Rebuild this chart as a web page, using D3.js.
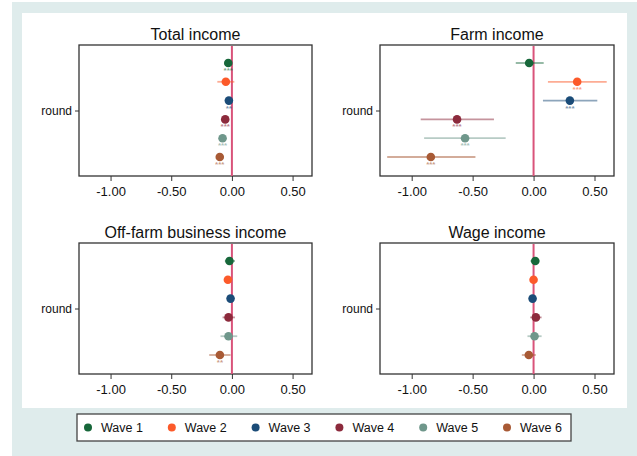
<!DOCTYPE html>
<html><head><meta charset="utf-8">
<script src="https://cdn.jsdelivr.net/npm/d3@7/dist/d3.min.js"></script>
<style>body{margin:0;background:#fff}svg{display:block;font-family:"Liberation Sans",Arial,sans-serif}</style>
</head><body><svg id="c" width="637" height="456"></svg>
<script>
const waves = ["Wave 1","Wave 2","Wave 3","Wave 4","Wave 5","Wave 6"];
const colors = ["#17673a","#fc5a2a","#1b4c78","#8c2a3c","#6f978b","#a85a35"];
const panels = ["Total income","Farm income","Off-farm business income","Wage income"];
const ticks = [-1.00,-0.50,0.00,0.50];
// estimates per panel: [coef, lo, hi, stars]
const totalIncome = [[-0.030,-0.045,-0.015,"***"],[-0.050,-0.120,0.020,""],[-0.025,-0.040,-0.010,"**"],[-0.055,-0.070,-0.040,"***"],[-0.077,-0.092,-0.062,"***"],[-0.100,-0.115,-0.085,"***"]];
const farmIncome = [[-0.036,-0.146,0.083,""],[0.358,0.118,0.600,"***"],[0.298,0.077,0.523,"***"],[-0.628,-0.926,-0.325,"***"],[-0.562,-0.898,-0.229,"***"],[-0.843,-1.201,-0.477,"***"]];
const offFarmIncome = [[-0.020,-0.058,0.025,""],[-0.033,-0.048,-0.018,""],[-0.011,-0.026,0.004,""],[-0.028,-0.077,0.025,""],[-0.028,-0.094,0.044,""],[-0.099,-0.187,-0.011,"**"]];
const wageIncome = [[0.014,-0.025,0.047,""],[0.000,-0.012,0.012,""],[-0.008,-0.020,0.004,""],[0.019,-0.028,0.066,""],[0.008,-0.050,0.066,""],[-0.039,-0.096,0.019,""]];
const panelData = [totalIncome, farmIncome, offFarmIncome, wageIncome];

const svg = d3.select("#c");
svg.append("rect").attr("x",0).attr("y",2).attr("width",637).attr("height",454).attr("fill","#dfecec");
svg.append("rect").attr("x",0).attr("y",0).attr("width",12).attr("height",456).attr("fill","#fff");
svg.append("rect").attr("x",22).attr("y",13).attr("width",605).attr("height",395).attr("fill","#fff");

const boxes = [{x0:79,x1:312,y0:45,y1:176},{x0:380,x1:614,y0:45,y1:176},{x0:79,x1:312,y0:243,y1:374},{x0:380,x1:614,y0:243,y1:374}];

panels.forEach((title,i)=>{
  const b = boxes[i];
  const x = d3.scaleLinear().domain([-1.26,0.66]).range([b.x0,b.x1]);
  const y = d3.scalePoint().domain(waves).range([b.y0+18,b.y1-19]);
  const g = svg.append("g");
  g.append("text").attr("x",(b.x0+b.x1)/2).attr("y",b.y0-5).attr("text-anchor","middle")
    .attr("font-size",16).attr("fill","#111").text(title);
  // x axis
  const ax = g.append("g").attr("transform",`translate(0,${b.y1})`)
    .call(d3.axisBottom(x).tickValues(ticks).tickFormat(d3.format(".2f")).tickSize(5).tickSizeOuter(0));
  ax.select(".domain").remove();
  ax.selectAll("line").attr("stroke","#333");
  ax.selectAll("text").attr("font-size",13).attr("fill","#111").attr("dy","0.95em")
    .text(d=>d3.format(".2f")(d).replace("−","-"));
  // y axis single category
  const yc = d3.scalePoint().domain(["round"]).range([(b.y0+b.y1)/2,(b.y0+b.y1)/2]);
  const ay = g.append("g").attr("transform",`translate(${b.x0},0)`)
    .call(d3.axisLeft(yc).tickSize(4).tickPadding(3));
  ay.select(".domain").remove();
  ay.selectAll("line").attr("stroke","#333");
  ay.selectAll("text").attr("font-size",12).attr("fill","#111");
  // frame
  g.append("rect").attr("x",b.x0).attr("y",b.y0).attr("width",b.x1-b.x0).attr("height",b.y1-b.y0)
    .attr("fill","none").attr("stroke","#333").attr("stroke-width",1.3);
  // zero line
  g.append("line").attr("x1",x(0)).attr("x2",x(0)).attr("y1",b.y0+1).attr("y2",b.y1)
    .attr("stroke","#d9537a").attr("stroke-width",2);
  const d = panelData[i];
  g.selectAll(".ci").data(d).join("line")
    .attr("x1",v=>x(v[1])).attr("x2",v=>x(v[2]))
    .attr("y1",(v,j)=>y(waves[j])).attr("y2",(v,j)=>y(waves[j]))
    .attr("stroke",(v,j)=>colors[j]).attr("stroke-opacity",0.5).attr("stroke-width",1.8);
  g.selectAll(".pt").data(d).join("circle")
    .attr("cx",v=>x(v[0])).attr("cy",(v,j)=>y(waves[j])).attr("r",4.3)
    .attr("fill",(v,j)=>colors[j]);
  g.selectAll(".st").data(d).join("text")
    .attr("x",v=>x(v[0])).attr("y",(v,j)=>y(waves[j])+10)
    .attr("text-anchor","middle").attr("font-size",8).attr("font-weight","bold")
    .attr("fill",(v,j)=>colors[j]).attr("fill-opacity",0.6).text(v=>v[3]);
});

// legend
const lg = svg.append("g");
lg.append("rect").attr("x",77).attr("y",414).attr("width",494).attr("height",27)
  .attr("fill","#fff").attr("stroke","#444").attr("stroke-width",1.3);
const lx = d3.scalePoint().domain(waves).range([88,507]);
waves.forEach((w,j)=>{
  lg.append("circle").attr("cx",lx(w)).attr("cy",427.5).attr("r",4).attr("fill",colors[j]);
  lg.append("text").attr("x",lx(w)+13).attr("y",432).attr("font-size",12.5).attr("fill","#111").text(w);
});
</script></body></html>
